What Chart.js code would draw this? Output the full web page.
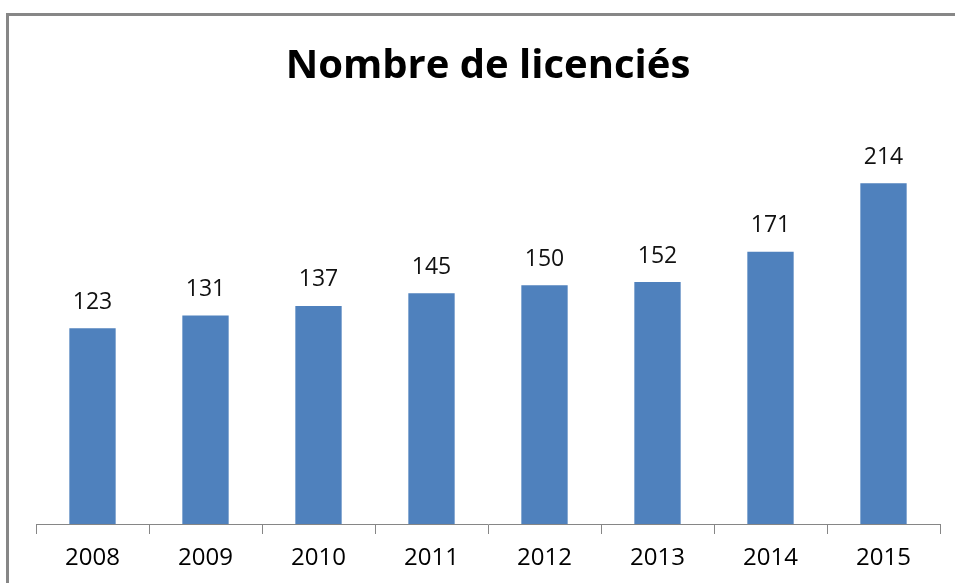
<!DOCTYPE html>
<html>
<head>
<meta charset="utf-8">
<script src="https://cdn.jsdelivr.net/npm/chart.js@4/dist/chart.umd.min.js"></script>
<style>
  html, body { margin: 0; padding: 0; background: #fff; overflow: hidden; }
  #wrap { position: relative; width: 955px; height: 583px; }
  #frame { position: absolute; left: 6px; top: 13px; width: 1200px; height: 800px;
           border-left: 3px solid #878787; border-top: 3px solid #878787; }
  canvas { position: absolute; left: 0; top: 0; }
</style>
</head>
<body>
<div id="wrap">
  <div id="frame"></div>
  <canvas id="c" width="955" height="583"></canvas>
</div>
<script>
const titleText = "Nombre de licenciés";
const years = ["2008", "2009", "2010", "2011", "2012", "2013", "2014", "2015"];
const licencies = [123, 131, 137, 145, 150, 152, 171, 214];

const labelFont = "'Open Sans', 'Noto Sans', sans-serif";

const valueLabels = {
  id: 'valueLabels',
  afterDatasetsDraw(chart) {
    const ctx = chart.ctx;
    const meta = chart.getDatasetMeta(0);
    ctx.save();
    ctx.font = "23px " + labelFont;
    ctx.fillStyle = "#111";
    ctx.textAlign = "center";
    ctx.textBaseline = "middle";
    meta.data.forEach((bar, i) => {
      ctx.fillText(String(chart.data.datasets[0].data[i]), bar.x, bar.y - 26);
    });
    ctx.restore();
  }
};

new Chart(document.getElementById('c'), {
  type: 'bar',
  data: {
    labels: years,
    datasets: [{
      data: licencies,
      backgroundColor: '#4F81BD',
      categoryPercentage: 1,
      barPercentage: 0.41
    }]
  },
  options: {
    responsive: false,
    animation: false,
    layout: { padding: { left: 36, right: 15, top: 0, bottom: 1 } },
    plugins: {
      legend: { display: false },
      tooltip: { enabled: false },
      title: {
        display: true,
        text: titleText,
        color: '#000',
        font: { family: "'Open Sans', sans-serif", size: 40, weight: 'bold' },
        padding: { top: 43, bottom: 35 }
      }
    },
    scales: {
      x: {
        grid: { display: true, drawOnChartArea: false, drawTicks: true, tickLength: 10, color: '#868686', offset: true },
        border: { display: true, color: '#868686', width: 1 },
        ticks: { color: '#000', font: { family: labelFont, size: 24 }, padding: 9.6, maxRotation: 0 }
      },
      y: {
        display: false,
        min: 0,
        max: 250
      }
    }
  },
  plugins: [valueLabels]
});
</script>
</body>
</html>
